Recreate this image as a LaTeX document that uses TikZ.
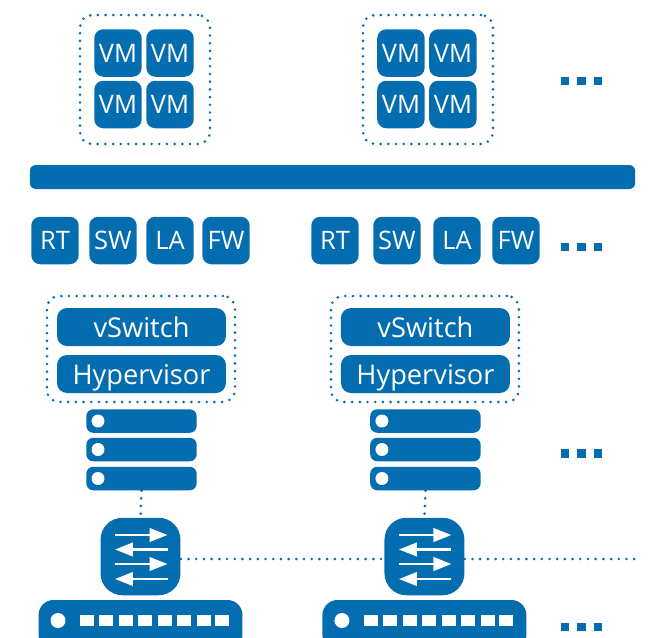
\documentclass[tikz,border=0pt]{standalone}
\usepackage{fontspec}
\setmainfont{Open Sans}
\usepackage{xcolor}
\usetikzlibrary{arrows.meta}
\definecolor{netblue}{HTML}{036DB0}
\tikzset{
 block/.style={rectangle,fill=netblue,text=white,inner sep=0pt},
 vmbox/.style={block,minimum width=0.95cm,minimum height=0.95cm,rounded corners=0.18cm,font=\fontsize{14.5}{14.5}\selectfont},
 pill/.style={block,minimum width=3.38cm,minimum height=0.76cm,rounded corners=0.2cm,text height=0.4cm,text depth=0cm,font=\fontsize{15.5}{16}\selectfont},
 server/.style={block,minimum width=2.21cm,minimum height=0.47cm,rounded corners=0.14cm},
 switchbox/.style={block,minimum width=1.6cm,minimum height=1.55cm,rounded corners=0.44cm},
 portbox/.style={block,minimum width=4.08cm,minimum height=1cm,rounded corners=0.3cm},
 led/.style={circle,fill=white,inner sep=0pt,minimum size=0.26cm},
 bigled/.style={circle,fill=white,inner sep=0pt,minimum size=0.3cm},
 port/.style={rectangle,fill=white,inner sep=0pt,minimum width=0.28cm,minimum height=0.22cm},
 more/.style={rectangle,fill=netblue,inner sep=0pt,minimum size=0.17cm},
 dotline/.style={draw=netblue,line width=0.058cm,line cap=round,dash pattern=on 0pt off 0.154cm},
 group/.style={rectangle,dotline,inner sep=0pt,rounded corners=0.24cm},
 flow/.style={draw=white,line width=0.05cm,-{Triangle[length=0.36cm,width=0.27cm]}}
}
\begin{document}
\begin{tikzpicture}[x=0.02cm,y=-0.02cm]
 \useasboundingbox (0,0) rectangle (650,637);

 % virtual machines
 \node at (145,79.5) [group,minimum width=2.6cm,minimum height=2.58cm] (hostA) {};
 \node at (118,53) [vmbox] (vmA1) {VM};
 \node at (170,53) [vmbox] (vmA2) {VM};
 \node at (118,104.5) [vmbox] (vmA3) {VM};
 \node at (170,104.5) [vmbox] (vmA4) {VM};

 \begin{scope}[xshift={5.66cm}]
 \node at (145,79.5) [group,minimum width=2.6cm,minimum height=2.58cm] (hostB) {};
 \node at (118,53) [vmbox] (vmB1) {VM};
 \node at (170,53) [vmbox] (vmB2) {VM};
 \node at (118,104.5) [vmbox] (vmB3) {VM};
 \node at (170,104.5) [vmbox] (vmB4) {VM};
 \end{scope}

 \node at (332.5,177) [block,minimum width=12.11cm,minimum height=0.48cm,rounded corners=0.12cm] (bus) {};

 % network functions
 \node at (55,240.5) [vmbox] (rtA) {RT};
 \node at (113,240.5) [vmbox] (swA) {SW};
 \node at (170,240.5) [vmbox] (laA) {LA};
 \node at (226,240.5) [vmbox] (fwA) {FW};
 \node at (335,240.5) [vmbox] (rtB) {RT};
 \node at (397,240.5) [vmbox] (swB) {SW};
 \node at (457,240.5) [vmbox] (laB) {LA};
 \node at (516,240.5) [vmbox] (fwB) {FW};

 % first server
 \node at (141,349) [group,minimum width=3.76cm,minimum height=2.12cm] (nodeA) {};
 \node at (141.5,327) [pill] (vswA) {vSwitch};
 \node at (141.5,374) [pill] (hypA) {Hypervisor};
 \node at (141.5,421) [server] (srvA1) {};
 \node at (141.5,449.5) [server] (srvA2) {};
 \node at (141.5,478.5) [server] (srvA3) {};
 \node at (98,421) [led] (ledA1) {};
 \node at (98,449.5) [led] (ledA2) {};
 \node at (98,478.5) [led] (ledA3) {};
 \node at (140.5,556.5) [switchbox] (swiA) {};
 \node at (140.5,625) [portbox] (torA) {};
 \node at (58,620.5) [bigled] (ledA) {};
 \node at (87,620.5) [port] (pA1) {};
 \node at (106,620.5) [port] (pA2) {};
 \node at (126,620.5) [port] (pA3) {};
 \node at (145,620.5) [port] (pA4) {};
 \node at (165,620.5) [port] (pA5) {};
 \node at (184,620.5) [port] (pA6) {};
 \node at (204,620.5) [port] (pA7) {};
 \node at (222,620.5) [port] (pA8) {};

 % second server
 \begin{scope}[xshift={5.68cm}]
 \node at (141,349) [group,minimum width=3.76cm,minimum height=2.12cm] (nodeB) {};
 \node at (141.5,327) [pill] (vswB) {vSwitch};
 \node at (141.5,374) [pill] (hypB) {Hypervisor};
 \node at (141.5,421) [server] (srvB1) {};
 \node at (141.5,449.5) [server] (srvB2) {};
 \node at (141.5,478.5) [server] (srvB3) {};
 \node at (98,421) [led] (ledB1) {};
 \node at (98,449.5) [led] (ledB2) {};
 \node at (98,478.5) [led] (ledB3) {};
 \node at (140.5,556.5) [switchbox] (swiB) {};
 \node at (140.5,625) [portbox] (torB) {};
 \node at (58,620.5) [bigled] (ledB) {};
 \node at (87,620.5) [port] (pB1) {};
 \node at (106,620.5) [port] (pB2) {};
 \node at (126,620.5) [port] (pB3) {};
 \node at (145,620.5) [port] (pB4) {};
 \node at (165,620.5) [port] (pB5) {};
 \node at (184,620.5) [port] (pB6) {};
 \node at (204,620.5) [port] (pB7) {};
 \node at (222,620.5) [port] (pB8) {};
 \end{scope}

 % links
 \coordinate (edge) at (635,559);
 \draw[dotline] (srvA3.south)--(swiA.north);
 \draw[dotline] (srvB3.south)--(swiB.north);
 \draw[dotline] (swiA.east |- edge)--(swiB.west |- edge);
 \draw[dotline] (swiB.east |- edge)--(edge);

 % switch arrows
 \coordinate (a1) at (115,535); \coordinate (a2) at (167.5,535);
 \coordinate (a3) at (167.5,549.5); \coordinate (a4) at (115,549.5);
 \coordinate (a5) at (115,564); \coordinate (a6) at (167.5,564);
 \coordinate (a7) at (167.5,579); \coordinate (a8) at (115,579);
 \draw[flow] (a1)--(a2); \draw[flow] (a3)--(a4);
 \draw[flow] (a5)--(a6); \draw[flow] (a7)--(a8);
 \begin{scope}[xshift={5.68cm}]
 \coordinate (b1) at (115,535); \coordinate (b2) at (167.5,535);
 \coordinate (b3) at (167.5,549.5); \coordinate (b4) at (115,549.5);
 \coordinate (b5) at (115,564); \coordinate (b6) at (167.5,564);
 \coordinate (b7) at (167.5,579); \coordinate (b8) at (115,579);
 \draw[flow] (b1)--(b2); \draw[flow] (b3)--(b4);
 \draw[flow] (b5)--(b6); \draw[flow] (b7)--(b8);
 \end{scope}

 % continuation marks
 \node at (565,81) [more] (m1) {}; \node at (581.5,81) [more] (m2) {}; \node at (598,81) [more] (m3) {};
 \node at (565,247) [more] (m4) {}; \node at (581.5,247) [more] (m5) {}; \node at (598,247) [more] (m6) {};
 \node at (565,453.5) [more] (m7) {}; \node at (581.5,453.5) [more] (m8) {}; \node at (598,453.5) [more] (m9) {};
 \node at (565,627) [more] (m10) {}; \node at (581.5,627) [more] (m11) {}; \node at (598,627) [more] (m12) {};
\end{tikzpicture}
\end{document}
